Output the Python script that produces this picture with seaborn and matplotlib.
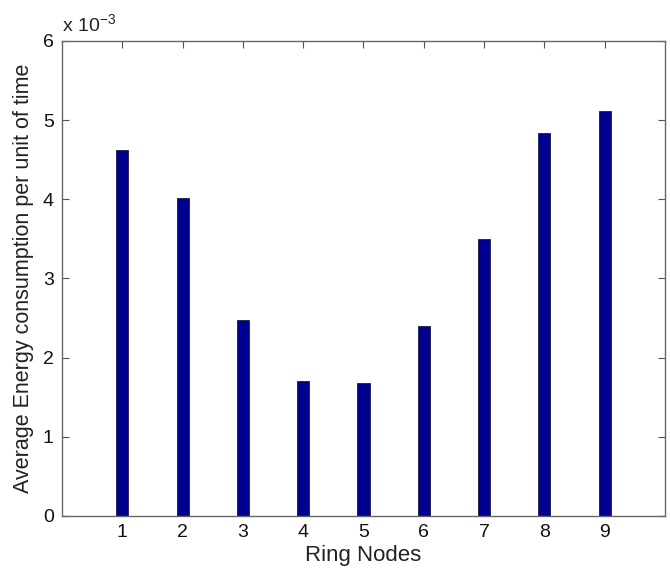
import numpy as np
import pandas as pd
import matplotlib
matplotlib.use("Agg")
import matplotlib.pyplot as plt
import seaborn as sns
from matplotlib.ticker import FuncFormatter

# Datos
nodos = [1, 2, 3, 4, 5, 6, 7, 8, 9]
energia = [4.62e-3, 4.01e-3, 2.47e-3, 1.70e-3, 1.68e-3, 2.40e-3, 3.50e-3, 4.84e-3, 5.12e-3]

sns.set_theme(style="white")
plt.rcParams['font.family'] = ['Liberation Sans', 'DejaVu Sans']

df = pd.DataFrame({"nodo": nodos, "energia": energia})

fig = plt.figure(figsize=(6.7, 5.77), dpi=100)
ax = fig.add_axes([0.0925, 0.106, 0.9, 0.823])

sns.barplot(data=df, x="nodo", y="energia", native_scale=True, width=0.2,
            color="#000090", saturation=1, edgecolor="#1a1a4a", linewidth=0.6, ax=ax)

ax.set_xlim(0, 10)
ax.set_ylim(0, 6e-3)
ax.set_xticks(nodos)
ax.set_yticks(np.arange(0, 7) * 1e-3)
ax.yaxis.set_major_formatter(FuncFormatter(lambda v, p: f"{v * 1e3:g}"))

ax.tick_params(direction="in", length=5, width=0.8, colors="#555555",
               labelcolor="#111111", labelsize=14, top=True, right=True,
               bottom=True, left=True, pad=6)
for s in ax.spines.values():
    s.set_color("#666666")
    s.set_linewidth(1.0)

ax.set_xlabel("Ring Nodes", fontsize=16, color="#222222", labelpad=3)
ax.set_ylabel("Average Energy consumption per unit of time", fontsize=15.5,
              color="#222222", labelpad=6)
ax.text(0.0, 1.01, r"x 10$^{\mathregular{-3}}$", transform=ax.transAxes, fontsize=14,
        color="#222222", ha="left", va="bottom")

plt.savefig("out.png", dpi=100)
plt.close()
